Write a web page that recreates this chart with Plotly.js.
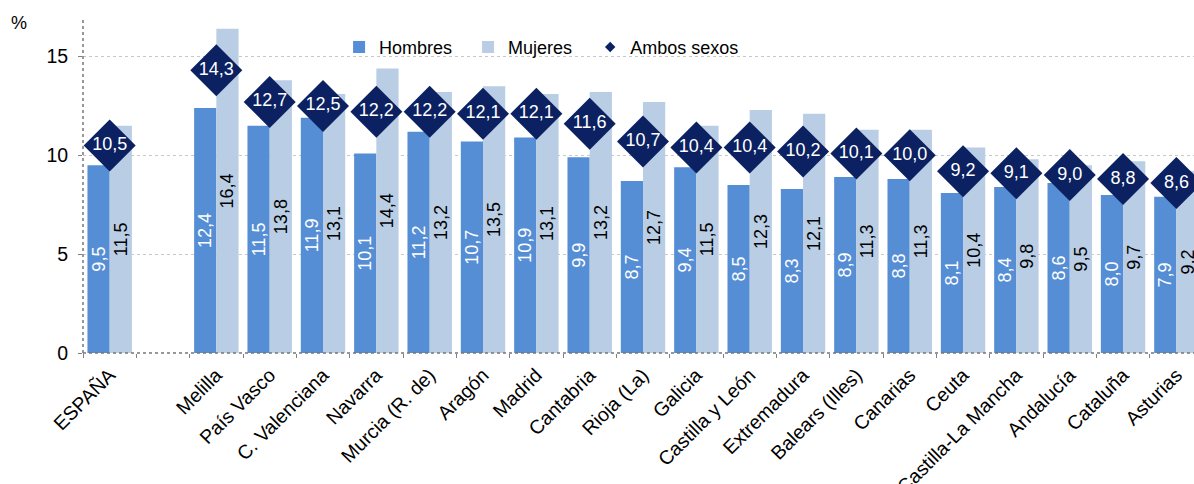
<!DOCTYPE html>
<html><head><meta charset="utf-8">
<script src="https://cdn.plot.ly/plotly-3.0.1.min.js"></script>
<style>html,body{margin:0;padding:0;overflow:hidden;background:#fff}#chart{width:1194px;height:484px}</style>
</head><body><div id="chart"></div>
<script>
const categories = ["ESPAÑA", " ", "Melilla", "País Vasco", "C. Valenciana", "Navarra", "Murcia (R. de)", "Aragón", "Madrid", "Cantabria", "Rioja (La)", "Galicia", "Castilla y León", "Extremadura", "Balears (Illes)", "Canarias", "Ceuta", "Castilla-La Mancha", "Andalucía", "Cataluña", "Asturias"];
const hombres = [9.5, null, 12.4, 11.5, 11.9, 10.1, 11.2, 10.7, 10.9, 9.9, 8.7, 9.4, 8.5, 8.3, 8.9, 8.8, 8.1, 8.4, 8.6, 8.0, 7.9];
const mujeres = [11.5, null, 16.4, 13.8, 13.1, 14.4, 13.2, 13.5, 13.1, 13.2, 12.7, 11.5, 12.3, 12.1, 11.3, 11.3, 10.4, 9.8, 9.5, 9.7, 9.2];
const ambos = [10.5, null, 14.3, 12.7, 12.5, 12.2, 12.2, 12.1, 12.1, 11.6, 10.7, 10.4, 10.4, 10.2, 10.1, 10.0, 9.2, 9.1, 9.0, 8.8, 8.6];
const yTicks = [0, 5, 10, 15];

const fmt = v => v == null ? "" : v.toFixed(1).replace(".", ",");
const FONT = "Liberation Sans, Arial, sans-serif";
const C_H = "#558ED5", C_M = "#B9CDE5", C_A = "#0B2161";

const traces = [
  {type: "bar", name: "Hombres", x: categories, y: hombres, text: hombres.map(fmt), legend: "legend",
   marker: {color: C_H}, textposition: "inside", insidetextanchor: "middle", textangle: -90,
   constraintext: "none", insidetextfont: {color: "#ffffff", size: 18, family: FONT}, hoverinfo: "skip"},
  {type: "bar", name: "Mujeres", x: categories, y: mujeres, text: mujeres.map(fmt), legend: "legend2",
   marker: {color: C_M}, textposition: "inside", insidetextanchor: "middle", textangle: -90,
   constraintext: "none", insidetextfont: {color: "#000000", size: 18, family: FONT}, hoverinfo: "skip"},
  {type: "scatter", mode: "markers+text", name: "Ambos sexos", x: categories, y: ambos, text: ambos.map(fmt),
   textposition: "middle center", textfont: {color: "#ffffff", size: 18, family: FONT},
   marker: {symbol: "diamond", size: 40, color: C_A}, showlegend: false, hoverinfo: "skip"},
  {type: "scatter", mode: "markers", name: "Ambos sexos", x: [null], y: [null], legend: "legend3",
   marker: {symbol: "diamond", size: 8, color: C_A}, hoverinfo: "skip"}
];

const legBase = {orientation: "h", xanchor: "left", y: 0.91, yanchor: "middle",
                 font: {size: 18, family: FONT}, bgcolor: "rgba(0,0,0,0)"};

const layout = {
  width: 1194, height: 484,
  margin: {l: 83, r: 0, t: 17, b: 131, pad: 0},
  paper_bgcolor: "#fff", plot_bgcolor: "#fff",
  font: {family: FONT, size: 18, color: "#000"},
  barmode: "group", bargap: 0.167, bargroupgap: 0,
  showlegend: true,
  legend: Object.assign({}, legBase, {x: 0.2305}),
  legend2: Object.assign({}, legBase, {x: 0.3466}),
  legend3: Object.assign({}, legBase, {x: 0.4565}),
  xaxis: {type: "category", range: [-0.5, 20.33], tickangle: -45, tickson: "boundaries",
          ticks: "outside", ticklen: 4, tickcolor: "#808080", showgrid: false, showline: false,
          zeroline: false, tickfont: {size: 19.5, family: FONT}, ticklabelstandoff: 6, fixedrange: true},
  yaxis: {range: [0, 17], tickvals: yTicks, ticktext: yTicks.map(String), ticks: "outside", ticklen: 4,
          tickcolor: "#808080", showgrid: true, gridcolor: "#c8c8c8", griddash: "dot", gridwidth: 1,
          showline: false, zeroline: false, tickfont: {size: 19.5, family: FONT}, ticklabelstandoff: 6, fixedrange: true},
  shapes: [
    {type: "line", xref: "paper", yref: "paper", x0: 0, x1: 1, y0: 0, y1: 0, line: {color: "#777", width: 1.5, dash: "dot"}},
    {type: "line", xref: "paper", yref: "paper", x0: 0, x1: 0, y0: 0, y1: 1, line: {color: "#777", width: 1.5, dash: "dot"}}
  ],
  annotations: [
    {text: "%", xref: "paper", yref: "paper", x: -0.0576, y: 0.982, xanchor: "center", yanchor: "middle",
     showarrow: false, font: {size: 18, family: FONT}}
  ]
};
Plotly.newPlot("chart", traces, layout, {displayModeBar: false, staticPlot: true});
</script></body></html>
